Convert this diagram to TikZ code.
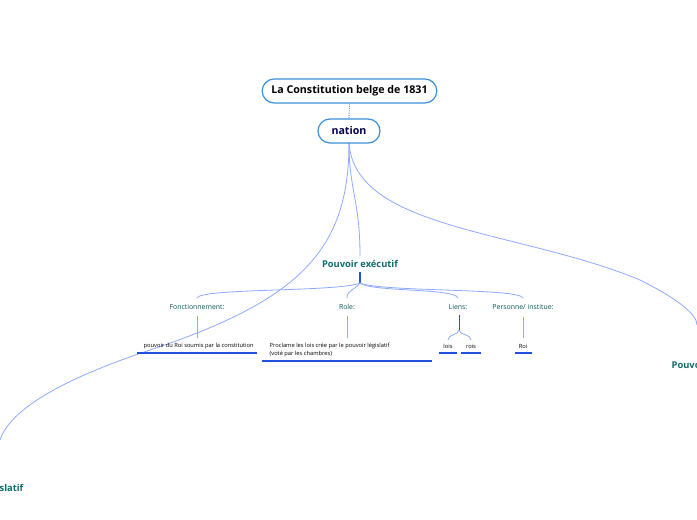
\documentclass[tikz,border=0pt]{standalone}
\usepackage{fontspec}
\setmainfont{Open Sans}
\begin{document}
\begin{tikzpicture}[x=0.75pt,y=-0.75pt,
  link/.style={draw=linec,line width=0.6pt},
  top/.style={draw=boxc,rounded corners=9pt,line width=0.9pt,fill=white,font=\bfseries\fontsize{8}{10}\selectfont,text=black,inner sep=0pt},
  head/.style={font=\bfseries\fontsize{7}{9}\selectfont,text=tealc},
  cat/.style={font=\fontsize{5.2}{6.5}\selectfont,text=tealc!80!black},
  leaf/.style={font=\fontsize{4.3}{5.5}\selectfont,text=black,align=left},
  ul/.style={draw=ulc,line width=1.1pt}]
\definecolor{linec}{HTML}{8FA9FF}
\definecolor{boxc}{HTML}{3A8FD8}
\definecolor{tealc}{HTML}{0F6B6B}
\definecolor{ulc}{HTML}{1F4FE0}
\useasboundingbox (0,0) rectangle (697,520);
% curves from nation
\coordinate (nb) at (349,143);
\draw[link] (nb) .. controls (349,250) and (300,300) .. (150,350) .. controls (60,380) and (10,410) .. (0,440);
\draw[link] (nb) .. controls (349,190) and (360,200) .. (360,256);
\draw[link] (nb) .. controls (355,230) and (520,230) .. (640,280) .. controls (680,300) and (697,315) .. (697,325);
\node[top,minimum width=175\pgflinewidth*0+131pt,minimum height=18pt] (title) at (349.5,91) {La Constitution belge de 1831};
\node[top,minimum width=46.5pt,minimum height=18pt,text=black!70!blue] (nation) at (349,131) {nation};
\draw[draw=boxc,densely dotted,line width=0.7pt] (title.south) -- (nation.north);
\node[head] (pe) at (360,264) {Pouvoir exécutif};
\node[head,anchor=west] (pd) at (667,365) {Pouvoir};
\node[head,anchor=east] (pl) at (28,489) {Pouvoir législatif};
\coordinate (pb) at (360,283);
\draw[ulc,line width=1pt] (360,272) -- (pb);
\node[cat] (c1) at (197,307) {Fonctionnement:};
\node[cat] (c2) at (347,307) {Role:};
\node[cat] (c3) at (458,307) {Liens:};
\node[cat] (c4) at (523,307) {Personne/ institue:};
\draw[link] (pb) .. controls (340,292) and (200,288) .. (197,298);
\draw[link] (pb) .. controls (355,290) and (347,290) .. (347,298);
\draw[link] (pb) .. controls (370,292) and (455,288) .. (458,298);
\draw[link] (pb) .. controls (380,292) and (520,288) .. (523,298);
\node[leaf,anchor=west] (l1) at (139,346) {pouvoir du Roi soumis par la constitution};
\node[leaf,anchor=west] (l2) at (265,350) {Proclame les lois crée par le pouvoir législatif\\(voté par les chambres)};
\node[leaf] (l3) at (448,346) {lois};
\node[leaf] (l4) at (471,346) {rois};
\node[leaf] (l5) at (523,346) {Roi};
\draw[link] (197,316) -- (197,338);
\draw[link] (347,316) -- (347,338);
\draw[link] (c4.south) ++(0,3) -- (523,338);
\coordinate (lb) at (459,330);
\draw[ulc,line width=0.7pt] (459,315) -- (lb);
\draw[link] (lb) .. controls (459,335) and (448,334) .. (448,340);
\draw[link] (lb) .. controls (459,335) and (471,334) .. (471,340);
\draw[ul] (137,353) -- (257,353);
\draw[ul] (262,361) -- (432,361);
\draw[ul] (439,353) -- (457,353);
\draw[ul] (461,353) -- (481,353);
\draw[ul] (515,353) -- (532,353);
\end{tikzpicture}
\end{document}
